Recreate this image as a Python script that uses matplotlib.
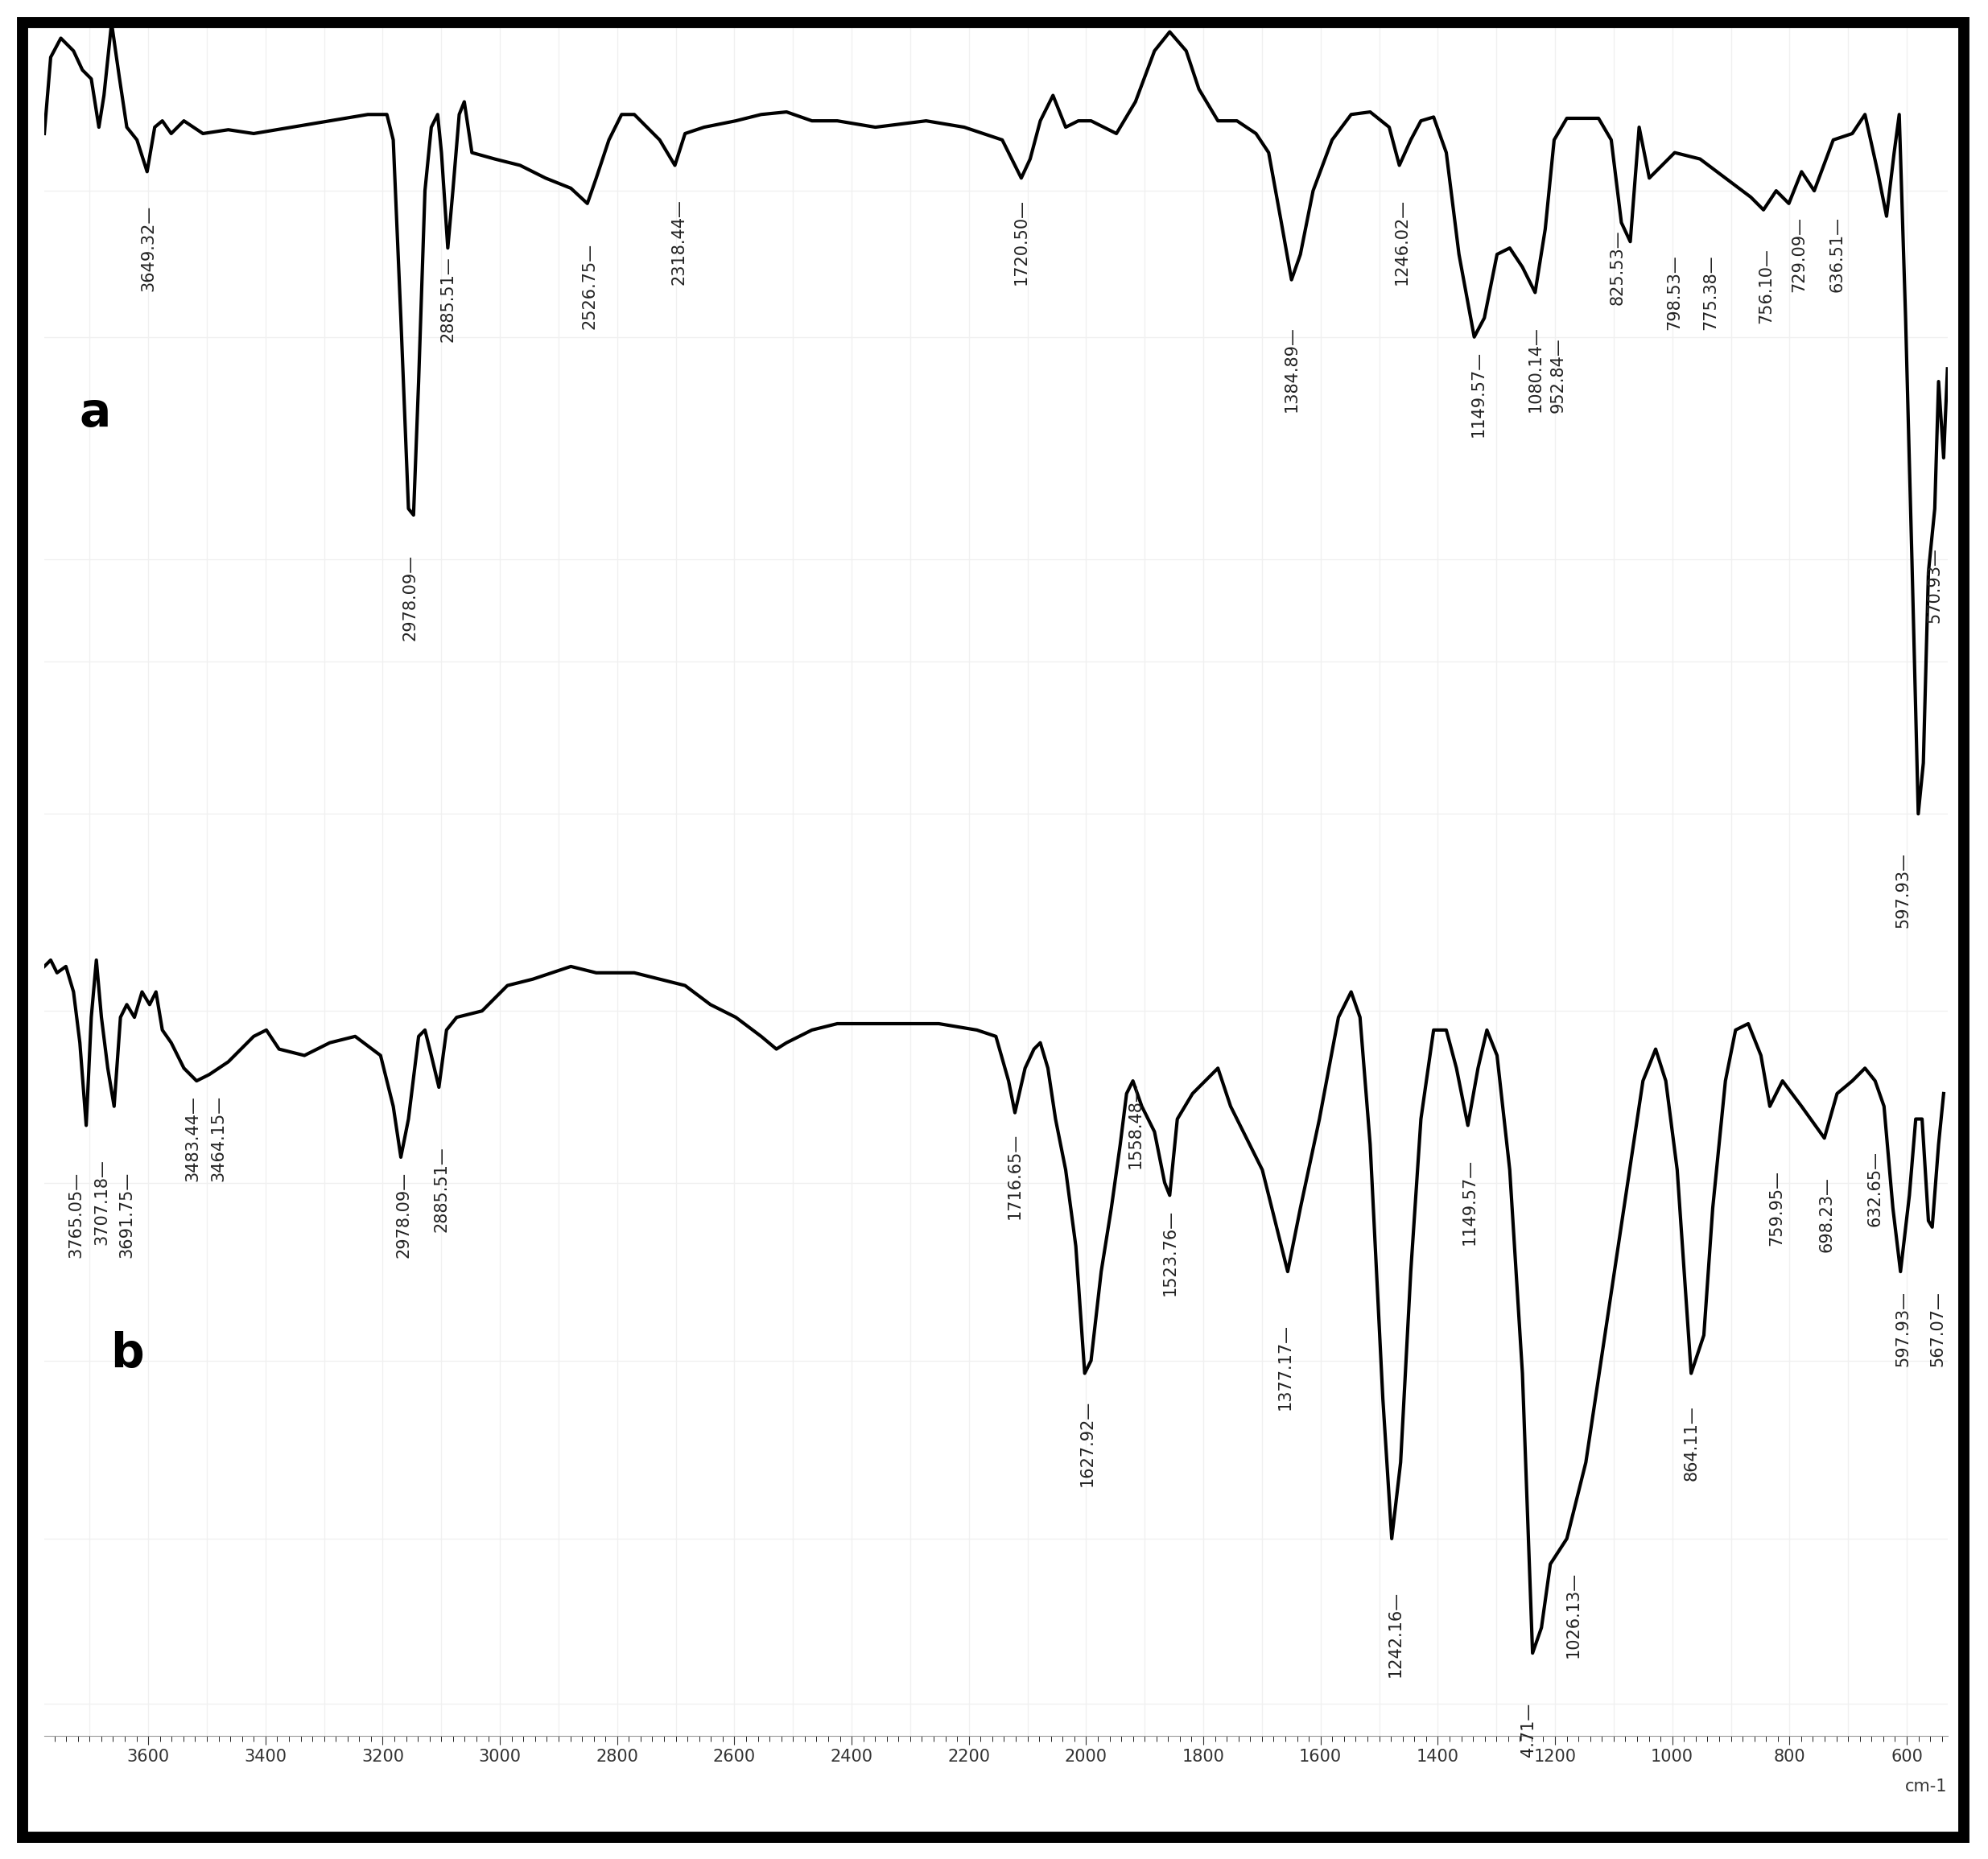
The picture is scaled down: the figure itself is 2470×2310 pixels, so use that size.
import matplotlib
matplotlib.use("Agg")
import matplotlib.pyplot as plt
from matplotlib.patches import Rectangle
import numpy as np

# Read positions (horizontal reading position calibrated to wavenumber below)
a_pos = [35,40,48,58,65,72,78,82,88,94,100,108,116,122,128,135,145,160,180,200,230,260,290,305,310,316,322,326,330,335,340,345,348,353,357,362,366,372,390,410,430,450,463,470,480,490,500,510,520,532,540,555,580,600,620,640,660,690,730,760,790,805,812,820,830,840,850,860,870,880,895,910,922,935,945,960,975,990,1000,1010,1018,1025,1035,1050,1065,1080,1095,1103,1112,1120,1130,1140,1150,1162,1170,1180,1190,1200,1210,1218,1225,1235,1260,1270,1278,1285,1292,1300,1310,1320,1340,1360,1380,1390,1400,1410,1420,1430,1445,1460,1470,1480,1487,1493,1497,1502,1507,1512,1516,1520,1525,1528,1532,1535]
a_val = [105,45,30,40,55,62,100,75,18,60,100,110,135,100,95,105,95,105,102,105,100,95,90,90,110,250,400,405,300,150,100,90,120,195,150,90,80,120,125,130,140,148,160,140,110,90,90,100,110,130,105,100,95,90,88,95,95,100,95,100,110,140,125,95,75,100,95,95,100,105,80,40,25,40,70,95,95,105,120,175,220,200,150,110,90,88,100,130,110,95,92,120,200,265,250,200,195,210,230,180,110,93,93,110,175,190,100,140,130,120,125,140,155,165,150,160,135,150,110,105,90,135,170,120,90,250,440,640,600,450,400,300,360,290]
b_pos = [35,40,45,52,58,63,68,72,76,80,85,90,95,100,106,112,118,123,128,135,145,155,165,180,200,210,220,240,260,280,300,310,316,322,330,335,340,346,352,360,380,400,420,450,470,500,520,540,560,580,600,612,620,640,660,700,740,770,785,795,800,808,815,820,826,832,840,848,855,860,868,876,883,888,893,900,910,918,922,928,940,950,960,970,980,995,1005,1015,1025,1040,1055,1065,1072,1080,1090,1097,1104,1112,1120,1130,1140,1148,1157,1165,1172,1180,1190,1200,1208,1215,1222,1235,1250,1265,1280,1295,1305,1313,1322,1333,1343,1350,1360,1368,1378,1388,1395,1405,1420,1438,1448,1460,1470,1478,1485,1492,1498,1505,1510,1515,1520,1523,1528,1532]
b_val = [760,755,765,760,780,820,885,800,755,800,840,870,800,790,800,780,790,780,810,820,840,850,845,835,815,810,825,830,820,815,830,870,910,880,815,810,830,855,810,800,795,775,770,760,765,765,770,775,790,800,815,825,820,810,805,805,805,810,815,850,875,840,825,820,840,880,920,980,1080,1070,1000,950,900,860,850,870,890,930,940,880,860,850,840,870,890,920,960,1000,950,880,800,780,800,900,1100,1210,1150,1000,880,810,810,840,885,840,810,830,920,1080,1300,1280,1230,1210,1150,1050,950,850,825,850,920,1080,1050,950,850,810,805,830,870,850,870,895,860,850,840,850,870,950,1000,940,880,880,960,965,900,860]

a_labels = ["3649.32","2978.09","2885.51","2526.75","2318.44","1720.50","1384.89","1246.02","1149.57","1080.14","952.84","825.53","798.53","775.38","756.10","729.09","636.51","570.93","597.93"]
a_lpos = [117,323,353,465,535,805,1018,1105,1165,1210,1228,1275,1320,1348,1392,1418,1448,1525,1500]
a_ly = [195,470,235,225,190,190,290,190,310,290,295,210,230,230,225,200,200,460,700]
b_labels = ["3765.05","3707.18","3691.75","3483.44","3464.15","2978.09","2885.51","1716.65","1558.48","1523.76","1627.92","1377.17","1242.16","1149.57","4.71","1026.13","864.11","759.95","698.23","632.65","597.93","567.07"]
b_lpos = [60,80,100,152,172,318,348,800,895,922,857,1013,1100,1158,1205,1240,1333,1400,1440,1478,1500,1527]
b_ly = [955,945,955,895,895,955,935,925,885,985,1135,1075,1285,945,1360,1270,1135,950,955,935,1045,1045]

def wn(p):
    return 3853.0 - 2.1645 * np.asarray(p, float)

tick_vals = list(range(3600, 599, -200))

fig = plt.figure(figsize=(24.7, 23.1), dpi=100)
ax = fig.add_axes([0.0223, 0.0663, 0.9573, 0.92])
ax.set_xlim(wn(35), wn(1535))
ax.set_ylim(1365, 20)

for v in np.arange(3700, 500, -100):
    ax.axvline(v, color="#f0f0f0", lw=1, zorder=0)
for h in [150, 265, 440, 520, 640, 795, 930, 1070, 1210, 1340]:
    ax.axhline(h, color="#f0f0f0", lw=1, zorder=0)

ax.plot(wn(a_pos), a_val, color="black", lw=3)
ax.plot(wn(b_pos), b_val, color="black", lw=3)

for lab, p, y in zip(a_labels + b_labels, a_lpos + b_lpos, a_ly + b_ly):
    ax.text(wn(p), y, lab + "—", rotation=90, ha="center", va="center", fontsize=15, color="#222")

ax.text(wn(75), 325, "a", fontsize=42, fontweight="bold", ha="center", va="center")
ax.text(wn(100), 1065, "b", fontsize=42, fontweight="bold", ha="center", va="center")

for s in ["top", "left", "right"]:
    ax.spines[s].set_visible(False)
ax.spines["bottom"].set_color("#999")
ax.set_yticks([])
ax.set_xticks(tick_vals)
ax.set_xticks(np.arange(3760, 520, -20), minor=True)
ax.tick_params(axis="x", labelsize=15, colors="#333", length=8, direction="out")
ax.tick_params(axis="x", which="minor", length=5)
ax.text(1.0, -0.025, "cm-1", transform=ax.transAxes, ha="right", va="top", fontsize=15, color="#333")

fig.patches.append(Rectangle((18/1567, 1-1445/1462), 1530/1567, 1427/1462, transform=fig.transFigure,
                             fill=False, lw=10, edgecolor="black"))
fig.savefig("out.png", dpi=100, facecolor="white")
